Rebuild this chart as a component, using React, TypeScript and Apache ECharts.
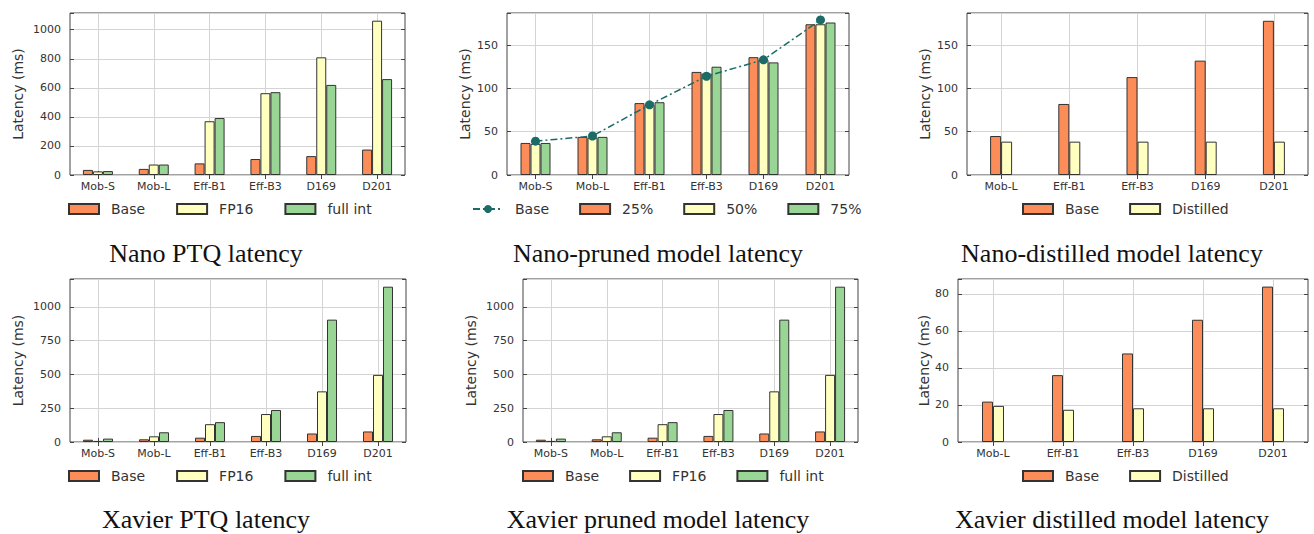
import React, { useEffect, useRef } from "react";
import * as echarts from "echarts";

// ---------- data ----------
const ptqCategories = ["Mob-S", "Mob-L", "Eff-B1", "Eff-B3", "D169", "D201"];
const distCategories = ["Mob-L", "Eff-B1", "Eff-B3", "D169", "D201"];

const nanoPtqBase = [35, 42, 80, 110, 130, 175];
const nanoPtqFp16 = [25, 72, 370, 563, 810, 1062];
const nanoPtqFullInt = [27, 72, 392, 570, 620, 660];

const nanoPrunedBase = [39, 45, 81, 114, 133, 179];
const nanoPruned25 = [37, 44, 83, 119, 136, 174];
const nanoPruned50 = [36, 43, 81, 117, 133, 174];
const nanoPruned75 = [37, 44, 84, 125, 130, 176];

const nanoDistBase = [45, 82, 113, 132, 178];
const nanoDistDistilled = [38.5, 38.5, 38.5, 38.5, 38.5];

const xavierPtqBase = [17, 20, 32, 45, 63, 78];
const xavierPtqFp16 = [8, 42, 132, 207, 375, 497];
const xavierPtqFullInt = [25, 72, 147, 237, 906, 1150];

const xavierPrunedBase = [17, 20, 32, 45, 63, 78];
const xavierPrunedFp16 = [8, 42, 132, 207, 375, 497];
const xavierPrunedFullInt = [25, 72, 147, 237, 906, 1150];

const xavierDistBase = [21.8, 36.1, 47.8, 66, 83.9];
const xavierDistDistilled = [19.5, 17.4, 18.2, 18.2, 18.2];

const captions = [
  "Nano PTQ latency",
  "Nano-pruned model latency",
  "Nano-distilled model latency",
  "Xavier PTQ latency",
  "Xavier pruned model latency",
  "Xavier distilled model latency",
];

// ---------- styles ----------
const ORANGE = "#fc8d59";
const YELLOW = "#ffffbf";
const GREEN = "#99d594";
const TEAL = "#1b6b67";
const EDGE = "#333333";
const FRAME = "#444444";
const FONT = "DejaVu Sans";

type Bar = { name: string; values: number[]; color: string };
type Panel = {
  grid: { left: number; top: number; width: number; height: number };
  categories: string[];
  bars: Bar[];
  line?: { name: string; values: number[] };
  yMax: number;
  yInterval: number;
  barWidth: number;
  nameGap: number;
  legendLeft: number;
  legendTop: number;
  legendGap: number;
  captionX: number;
  captionY: number;
};

const panels: Panel[] = [
  {
    grid: { left: 70, top: 13, width: 335, height: 162 },
    categories: ptqCategories,
    bars: [
      { name: "Base", values: nanoPtqBase, color: ORANGE },
      { name: "FP16", values: nanoPtqFp16, color: YELLOW },
      { name: "full int", values: nanoPtqFullInt, color: GREEN },
    ],
    yMax: 1115, yInterval: 200, barWidth: 10, nameGap: 45,
    legendLeft: 68, legendTop: 202, legendGap: 31,
    captionX: 206, captionY: 253,
  },
  {
    grid: { left: 507, top: 13, width: 342, height: 162 },
    categories: ptqCategories,
    line: { name: "Base", values: nanoPrunedBase },
    bars: [
      { name: "25%", values: nanoPruned25, color: ORANGE },
      { name: "50%", values: nanoPruned50, color: YELLOW },
      { name: "75%", values: nanoPruned75, color: GREEN },
    ],
    yMax: 187, yInterval: 50, barWidth: 10, nameGap: 35,
    legendLeft: 472, legendTop: 202, legendGap: 30,
    captionX: 658, captionY: 253,
  },
  {
    grid: { left: 967, top: 13, width: 341, height: 162 },
    categories: distCategories,
    bars: [
      { name: "Base", values: nanoDistBase, color: ORANGE },
      { name: "Distilled", values: nanoDistDistilled, color: YELLOW },
    ],
    yMax: 187, yInterval: 50, barWidth: 11, nameGap: 35,
    legendLeft: 1022, legendTop: 202, legendGap: 30,
    captionX: 1112, captionY: 253,
  },
  {
    grid: { left: 70, top: 279, width: 336, height: 163 },
    categories: ptqCategories,
    bars: [
      { name: "Base", values: xavierPtqBase, color: ORANGE },
      { name: "FP16", values: xavierPtqFp16, color: YELLOW },
      { name: "full int", values: xavierPtqFullInt, color: GREEN },
    ],
    yMax: 1207, yInterval: 250, barWidth: 10, nameGap: 45,
    legendLeft: 68, legendTop: 469, legendGap: 31,
    captionX: 206, captionY: 519,
  },
  {
    grid: { left: 523, top: 279, width: 335, height: 163 },
    categories: ptqCategories,
    bars: [
      { name: "Base", values: xavierPrunedBase, color: ORANGE },
      { name: "FP16", values: xavierPrunedFp16, color: YELLOW },
      { name: "full int", values: xavierPrunedFullInt, color: GREEN },
    ],
    yMax: 1207, yInterval: 250, barWidth: 10, nameGap: 45,
    legendLeft: 522, legendTop: 469, legendGap: 30,
    captionX: 658, captionY: 519,
  },
  {
    grid: { left: 958, top: 279, width: 350, height: 163 },
    categories: distCategories,
    bars: [
      { name: "Base", values: xavierDistBase, color: ORANGE },
      { name: "Distilled", values: xavierDistDistilled, color: YELLOW },
    ],
    yMax: 88, yInterval: 20, barWidth: 11, nameGap: 26,
    legendLeft: 1022, legendTop: 469, legendGap: 30,
    captionX: 1112, captionY: 519,
  },
];

function buildOption() {
  const grid: any[] = [];
  const xAxis: any[] = [];
  const yAxis: any[] = [];
  const series: any[] = [];
  const legend: any[] = [];
  const graphic: any[] = [];

  panels.forEach((p, i) => {
    grid.push({
      ...p.grid,
      show: true,
      borderColor: FRAME,
      borderWidth: 1,
      backgroundColor: "transparent",
      containLabel: false,
    });
    const tick = { show: true, inside: true, length: 4, alignWithLabel: true, lineStyle: { color: FRAME } };
    xAxis.push({
      type: "category",
      gridIndex: i,
      data: p.categories,
      position: "bottom",
      axisLine: { show: false },
      axisTick: tick,
      axisLabel: { color: "#333", fontFamily: FONT, fontSize: 11, margin: 6, interval: 0 },
      splitLine: { show: true, alignWithLabel: true, lineStyle: { color: "#d4d4d4", width: 1 } },
    });
    xAxis.push({
      type: "category",
      gridIndex: i,
      data: p.categories,
      position: "top",
      axisLine: { show: false },
      axisTick: tick,
      axisLabel: { show: false },
      splitLine: { show: false },
    });
    const fmt = (v: number) => (Math.abs(v % p.yInterval) < 1e-9 ? String(v) : "");
    yAxis.push({
      type: "value",
      gridIndex: i,
      min: 0,
      max: p.yMax,
      interval: p.yInterval,
      position: "left",
      name: "Latency (ms)",
      nameLocation: "middle",
      nameGap: p.nameGap,
      nameTextStyle: { color: "#333", fontFamily: FONT, fontSize: 14 },
      axisLine: { show: false },
      axisTick: { show: true, inside: true, length: 4, lineStyle: { color: FRAME } },
      axisLabel: { color: "#333", fontFamily: FONT, fontSize: 11, margin: 9, formatter: fmt },
      splitLine: { show: true, lineStyle: { color: "#d4d4d4", width: 1 } },
    });
    yAxis.push({
      type: "value",
      gridIndex: i,
      min: 0,
      max: p.yMax,
      interval: p.yInterval,
      position: "right",
      axisLine: { show: false },
      axisTick: { show: true, inside: true, length: 4, lineStyle: { color: FRAME } },
      axisLabel: { show: false },
      splitLine: { show: false },
    });

    const legendData: any[] = [];
    if (p.line) {
      const nm = `p${i}|${p.line.name}`;
      legendData.push({ name: nm });
      series.push({
        type: "line",
        name: nm,
        xAxisIndex: 2 * i,
        yAxisIndex: 2 * i,
        data: p.line.values,
        symbol: "circle",
        symbolSize: 9,
        z: 5,
        itemStyle: { color: TEAL },
        lineStyle: { color: TEAL, width: 1.5, type: [7, 3, 2, 3] },
      });
    }
    p.bars.forEach((b) => {
      const nm = `p${i}|${b.name}`;
      legendData.push({ name: nm, icon: "rect" });
      series.push({
        type: "bar",
        name: nm,
        xAxisIndex: 2 * i,
        yAxisIndex: 2 * i,
        data: b.values,
        barWidth: p.barWidth,
        barGap: "0%",
        itemStyle: { color: b.color, borderColor: EDGE, borderWidth: 1 },
      });
    });
    legend.push({
      data: legendData,
      left: p.legendLeft,
      top: p.legendTop,
      orient: "horizontal",
      itemWidth: 30,
      itemHeight: 10,
      itemGap: p.legendGap,
      selectedMode: false,
      padding: 0,
      formatter: (name: string) => name.split("|")[1],
      textStyle: { color: "#333", fontFamily: FONT, fontSize: 14, padding: [0, 0, 0, 7] },
    });
    graphic.push({
      type: "text",
      x: p.captionX,
      y: p.captionY,
      style: {
        text: captions[i],
        font: '26px "Liberation Serif"',
        fill: "#111",
        textAlign: "center",
        textVerticalAlign: "middle",
      },
    });
  });

  return {
    animation: false,
    backgroundColor: "#ffffff",
    grid,
    xAxis,
    yAxis,
    series,
    legend,
    graphic,
  };
}

export default function App() {
  const ref = useRef<HTMLDivElement>(null);
  useEffect(() => {
    document.body.style.margin = "0";
    if (!ref.current) return;
    const chart = echarts.init(ref.current, undefined, { renderer: "svg" });
    chart.setOption(buildOption() as any);
    return () => chart.dispose();
  }, []);
  return <div ref={ref} style={{ width: 1314, height: 534 }} />;
}
